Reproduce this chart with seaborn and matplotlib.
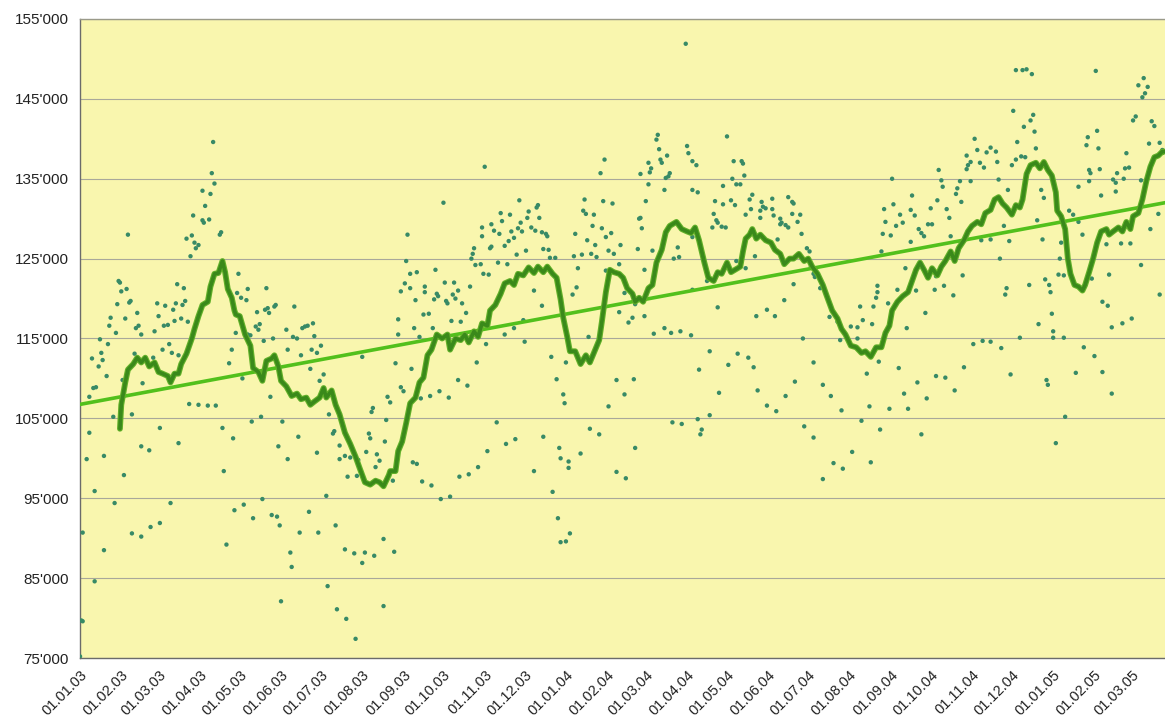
import matplotlib
matplotlib.use("Agg")
import matplotlib.pyplot as plt
import seaborn as sns
import pandas as pd
import numpy as np

# ---------------- data ----------------
start_date = "2003-01-01"
end_date = "2005-03-26"

# daily observations: day offset from start_date, value
scatter_days = [
    0, 1, 2, 100, 99, 101, 98, 92, 94, 92,
    93, 97, 85, 80, 84, 86, 89, 87, 83, 106,
    105, 36, 29, 30, 35, 31, 38, 37, 28, 73,
    78, 58, 64, 72, 79, 77, 70, 59, 43, 23,
    34, 42, 44, 46, 22, 27, 56, 63, 66, 71,
    76, 81, 88, 15, 21, 67, 62, 69, 74, 41,
    55, 16, 17, 9, 14, 20, 32, 47, 10, 12,
    7, 39, 25, 82, 89, 96, 102, 107, 7, 60,
    74, 5, 46, 52, 18, 33, 11, 26, 68, 108,
    116, 2, 39, 46, 53, 60, 110, 18, 11, 112,
    119, 118, 121, 126, 125, 140, 133, 139, 142, 141,
    146, 147, 161, 132, 135, 134, 117, 126, 128, 138,
    145, 155, 160, 163, 167, 169, 171, 175, 176, 181,
    156, 166, 174, 178, 173, 114, 122, 183, 180, 143,
    212, 220, 219, 187, 136, 129, 152, 115, 164, 191,
    190, 217, 218, 195, 149, 178, 195, 156, 199, 203,
    209, 215, 223, 225, 222, 201, 208, 185, 137, 123,
    130, 144, 148, 150, 172, 165, 179, 192, 158, 159,
    199, 206, 214, 212, 221, 151, 186, 193, 200, 207,
    304, 273, 330, 316, 323, 337, 336, 309, 302, 311,
    317, 331, 329, 324, 332, 339, 315, 302, 326, 322,
    319, 309, 308, 296, 295, 335, 328, 294, 245, 246,
    314, 321, 297, 301, 303, 307, 248, 253, 267, 244,
    241, 248, 274, 281, 293, 259, 259, 268, 269, 266,
    252, 275, 276, 280, 284, 282, 287, 258, 262, 290,
    239, 279, 286, 251, 265, 333, 326, 239, 255, 319,
    334, 305, 237, 298, 249, 241, 243, 231, 233, 256,
    263, 270, 277, 284, 291, 230, 313, 320, 327, 229,
    306, 250, 253, 299, 235, 257, 264, 285, 292, 271,
    278, 228, 236, 228,
    455, 434, 433, 435, 456, 457, 460, 441, 436, 437,
    427, 429, 394, 391, 421, 428, 443, 442, 440, 439,
    427, 460, 344, 343, 379, 393, 400, 425, 378, 380,
    386, 345, 420, 421, 342, 347, 350, 351, 385, 392,
    399, 372, 395, 381, 387, 406, 422, 348, 352, 371,
    377, 384, 388, 397, 401, 430, 419, 353, 357, 446,
    450, 449, 374, 405, 395, 424, 341, 373, 370, 347,
    409, 405, 412, 415, 417, 424, 460, 382, 431, 439,
    444, 451, 459, 354, 365, 358, 403, 416, 363, 364,
    409, 397, 445, 452, 348, 383, 390, 360, 361, 367,
    367, 376, 417, 341, 403, 410, 355, 359, 361, 365,
    368,
    486, 463, 491, 497, 498, 499, 490, 493, 496, 483,
    464, 505, 477, 483, 489, 492, 503, 512, 520, 532,
    535, 536, 513, 515, 520, 504, 511, 500, 476, 521,
    526, 535, 541, 511, 478, 479, 475, 482, 485, 526,
    527, 530, 539, 532, 460, 542, 524, 546, 548, 507,
    493, 500, 549, 551, 471, 552, 556, 536, 529, 479,
    516, 508, 522, 563, 569, 543, 473, 494, 502, 465,
    487, 506, 551, 480, 509, 537, 558, 564, 530, 516,
    523, 464, 473, 467, 466, 544, 551, 566, 558,
    672, 674, 681, 666, 669, 667, 676, 679, 645, 666,
    610, 647, 661, 669, 648, 659, 625, 658, 611, 644,
    662, 624, 604, 639, 616, 627, 651, 605, 613, 618,
    653, 637, 640, 630, 632, 634, 654, 603, 609, 624,
    602, 677, 620, 643, 663, 599, 614, 628, 642, 599,
    649, 656, 598, 607, 586, 596, 635, 588, 595, 579,
    584, 584, 571, 621, 671, 678, 600, 591, 615, 643,
    650, 664, 629, 657, 619, 636, 572, 593, 608, 622,
    587, 601, 632, 580, 594, 573,
    703, 708, 711, 715, 763, 799, 795, 802, 798, 800,
    701, 716, 793, 791, 709, 714, 717, 805, 807, 764,
    757, 704, 756, 765, 718, 684, 688, 786, 707, 710,
    703, 700, 689, 811, 813, 803, 758, 759, 766, 779,
    785, 788, 784, 776, 778, 690, 758, 797, 750, 778,
    697, 722, 724, 767, 810, 719, 743, 746, 694, 750,
    804, 684, 698, 723, 753, 737, 772, 771, 782, 789,
    691, 736, 797, 735, 739, 773, 713, 725, 728, 729,
    696, 695, 760, 811, 768, 772, 730, 720, 731, 731,
    739, 706, 775, 783, 790, 684, 692, 754, 762, 748,
    768, 699, 726, 727, 775, 740, 733,
]
scatter_values = [
    75200, 79700, 79600, 139600, 135700, 134400, 133100, 133500, 131600, 129800,
    129500, 129900, 130400, 127500, 127900, 127000, 126700, 126300, 125300, 128300,
    128000, 128000, 122200, 122000, 121200, 120900, 119700, 119500, 119300, 121800,
    121300, 119400, 119100, 119400, 119700, 119200, 118600, 117800, 118200, 117600,
    117500, 116300, 116600, 115500, 116600, 115700, 115900, 116600, 116700, 117200,
    117500, 117100, 117500, 114900, 114300, 114300, 113600, 113200, 112900, 113100,
    112600, 113200, 112300, 112500, 111500, 110300, 109800, 109400, 108800, 108900,
    107700, 105500, 105200, 106800, 106700, 106600, 106600, 103800, 103200, 103800,
    101900, 99900, 101500, 101000, 100300, 97900, 95900, 94400, 94400, 98400,
    93500, 90700, 90600, 90200, 91400, 91900, 89200, 88500, 84600, 111900,
    123100, 120700, 120100, 121200, 119800, 121300, 118300, 118600, 118200, 118800,
    119000, 119200, 119000, 116500, 116800, 116100, 115700, 115500, 115400, 114700,
    115000, 116100, 115200, 115000, 116300, 116500, 116600, 116900, 115300, 114100,
    113600, 112900, 113600, 113200, 111200, 113600, 110000, 110500, 109700, 107700,
    112700, 106300, 105800, 105500, 105200, 104600, 104600, 102500, 102700, 103400,
    103100, 103100, 102500, 101600, 101500, 100700, 99900, 99900, 100300, 100100,
    99800, 100800, 100500, 99700, 98900, 97700, 97800, 95300, 94900, 94200,
    92500, 92900, 92700, 91600, 93300, 90700, 90700, 91600, 88200, 86400,
    88600, 88100, 88200, 86900, 87800, 82100, 84000, 81100, 79900, 77400,
    136500, 132000, 132300, 130700, 130500, 130900, 130100, 129300, 128900, 128500,
    129700, 129500, 128800, 128400, 128400, 128900, 128100, 127800, 127600, 127200,
    126600, 126500, 126300, 126300, 125600, 126000, 125500, 125000, 124700, 128000,
    124500, 124300, 124200, 124300, 123100, 123000, 123100, 123300, 123600, 121900,
    120900, 121300, 122000, 122000, 121500, 121500, 120800, 120600, 120300, 119900,
    119800, 119700, 119400, 120500, 121000, 120000, 119400, 118000, 118100, 118200,
    117400, 117200, 117100, 116300, 116300, 117300, 116300, 115500, 115200, 115500,
    114600, 114300, 111900, 112000, 111200, 108900, 108400, 107700, 107000, 107500,
    107800, 108400, 107600, 109800, 109100, 104800, 104500, 101800, 102400, 102100,
    100900, 99500, 99300, 98900, 97200, 97100, 96600, 97700, 98000, 94900,
    95200, 89900, 88300, 81500,
    151900, 140500, 139900, 138700, 139100, 138200, 137200, 137900, 137400, 137000,
    137000, 136300, 137400, 135700, 135600, 135800, 135700, 135300, 135100, 133600,
    134300, 133600, 131700, 131400, 132400, 132200, 131900, 132200, 131000, 130600,
    130500, 130100, 130000, 130100, 128500, 128300, 128100, 127800, 129100, 128800,
    128200, 128100, 127700, 127300, 126700, 126700, 128800, 126200, 126100, 125300,
    125500, 125600, 125200, 126000, 125600, 126000, 126200, 125100, 125100, 125000,
    125200, 126400, 123800, 124300, 123500, 123600, 121000, 121400, 120500, 119100,
    120700, 118300, 117000, 117600, 119300, 117800, 121100, 115200, 115600, 116300,
    115700, 115900, 115400, 112700, 112000, 109900, 109800, 109900, 108000, 106900,
    108000, 106500, 104500, 104300, 102700, 103700, 103000, 101300, 100000, 99600,
    98800, 100600, 101300, 98400, 98300, 97500, 95800, 92500, 89500, 89600,
    90600,
    140300, 136700, 137200, 137200, 136900, 135400, 135000, 134300, 134300, 134100,
    133300, 133000, 132200, 131800, 132300, 131700, 132400, 132100, 132500, 132700,
    132100, 131900, 131500, 131300, 131200, 131200, 131000, 130500, 130600, 130400,
    130000, 130600, 130500, 130100, 129800, 129500, 128900, 129000, 128900, 129300,
    129500, 129200, 129600, 128900, 127700, 128100, 127400, 126300, 125900, 125300,
    124700, 123800, 124000, 123100, 122200, 122700, 121300, 121800, 119800, 118900,
    118600, 117800, 117800, 117700, 117100, 115000, 113400, 113100, 112600, 111100,
    111700, 111400, 112000, 108200, 108500, 109600, 109200, 107800, 107800, 106600,
    105900, 104900, 105400, 103600, 103000, 104000, 102600, 99400, 97400,
    140000, 138600, 138300, 137900, 137100, 136700, 137000, 136400, 136100, 136200,
    135000, 134800, 134700, 134700, 134000, 133800, 132900, 133100, 131800, 132300,
    132100, 131100, 131200, 131300, 130500, 130400, 131200, 129600, 129100, 129500,
    130100, 129300, 129300, 128700, 128200, 127800, 127800, 128100, 127900, 127100,
    125900, 127300, 123800, 122800, 122900, 121600, 121100, 121000, 121100, 120800,
    121600, 120400, 120100, 119400, 119000, 119000, 118200, 117300, 116800, 116500,
    116400, 115000, 114800, 116300, 114300, 114700, 112100, 110600, 111300, 110300,
    110100, 111400, 109500, 108500, 108100, 107500, 106000, 106500, 106200, 106200,
    104700, 103600, 103000, 100800, 99500, 98700,
    148600, 148600, 148700, 148100, 148500, 147600, 146700, 146500, 145200, 145700,
    143500, 143000, 142800, 142300, 141500, 142300, 140900, 142200, 141600, 141000,
    140200, 139600, 139200, 138800, 138800, 138900, 138400, 138200, 137800, 137700,
    137400, 136700, 137100, 139500, 138600, 139400, 136100, 135700, 136200, 135700,
    136300, 136400, 135000, 134900, 134500, 134900, 134700, 134800, 134000, 133400,
    133600, 133600, 132600, 132900, 130600, 129800, 131000, 130500, 129100, 129600,
    128700, 127400, 127200, 127400, 128000, 127000, 128300, 126800, 126900, 126900,
    125000, 125000, 124200, 123000, 122900, 123000, 121700, 122400, 121700, 120800,
    121300, 120500, 122500, 120500, 119600, 119100, 118100, 116800, 115900, 115100,
    115100, 115100, 116400, 116900, 117500, 114600, 113800, 113900, 112800, 110700,
    110800, 110500, 109800, 109200, 108100, 105200, 101900,
]

# moving average line (day offset, value)
ma_days = [
    30, 31, 34, 36, 40, 43, 46, 49, 52, 56, 59, 62, 66, 68, 71, 74, 76, 80, 84, 86,
    89, 92, 96, 98, 101, 104, 107, 109, 111, 114, 116, 117, 120, 124, 128, 130, 134, 137, 140, 144,
    146, 149, 151, 155, 159, 163, 166, 170, 173, 176, 180, 183, 185, 189, 192, 195, 199, 203, 207, 210,
    214, 218, 222, 225, 228, 232, 233, 237, 239, 242, 245, 248, 252, 255, 258, 261, 264, 268, 272, 276,
    278, 282, 286, 289, 292, 296, 299, 302, 306, 308, 312, 316, 319, 323, 326, 329, 333, 337, 341, 344,
    348, 351, 355, 358, 361, 363, 366, 368, 372, 376, 380, 383, 386, 390, 392, 395, 398, 401, 405, 408,
    411, 415, 417, 420, 423, 427, 430, 433, 437, 440, 443, 448, 452, 456, 459, 462, 465, 469, 472, 476,
    479, 482, 486, 489, 492, 496, 498, 500, 503, 505, 508, 511, 515, 519, 522, 526, 529, 533, 536, 540,
    544, 547, 550, 554, 558, 561, 565, 569, 572, 575, 579, 583, 587, 590, 594, 598, 602, 605, 608, 610,
    614, 618, 622, 625, 628, 631, 634, 637, 640, 644, 647, 650, 654, 657, 660, 664, 667, 670, 674, 677,
    680, 684, 687, 690, 693, 696, 700, 703, 706, 708, 711, 714, 718, 721, 724, 727, 730, 733, 734, 737,
    740, 742, 744, 747, 750, 753, 755, 758, 761, 764, 767, 771, 773, 776, 780, 783, 786, 789, 791, 795,
    798, 801, 804, 807, 810, 813, 815,
]
ma_values = [
    103700, 106700, 109500, 111100, 111800, 112600, 112000, 112600, 111500, 112000,
    110800, 110600, 110300, 109500, 110600, 110600, 111800, 113100, 115000, 116200,
    117800, 119200, 119600, 121500, 123100, 123200, 124700, 123300, 121200, 120100,
    118500, 118000, 117800, 115500, 114100, 111300, 110800, 109700, 112200, 112500,
    112900, 111500, 109700, 109000, 107800, 108100, 107400, 107600, 106700, 107100,
    107600, 108800, 107600, 108500, 106700, 105500, 103200, 101800, 100200, 98800,
    97000, 96700, 97200, 97000, 96500, 97900, 98400, 98400, 100900, 102100,
    104400, 106900, 107600, 109500, 110100, 112900, 113600, 115500, 115000, 115500,
    113600, 115000, 114800, 115500, 114500, 115900, 115200, 116900, 116600, 118500,
    119200, 120600, 121900, 122200, 121700, 123100, 122900, 123900, 123200, 124000,
    123300, 124000, 123100, 122600, 119900, 117600, 115200, 113400, 113400, 111800,
    112900, 112000, 113200, 114800, 117100, 120800, 123600, 123300, 123100, 122600,
    121300, 120600, 119600, 120100, 119600, 121300, 121700, 124500, 126100, 128300,
    129100, 129600, 128700, 128400, 128200, 128900, 127300, 124500, 122600, 122200,
    123300, 123100, 124500, 123300, 123600, 124000, 125900, 127500, 128000, 128700,
    127500, 128000, 127300, 127000, 126100, 125600, 124300, 125000, 125000, 125600,
    124700, 125000, 124000, 123100, 121700, 120300, 118500, 117500, 116200, 115500,
    114100, 113900, 113200, 113400, 112700, 113900, 113900, 115700, 116600, 118500,
    119600, 120300, 120800, 122200, 123600, 124500, 123600, 122600, 123800, 122900,
    124000, 124700, 125900, 124700, 126300, 127300, 128400, 129100, 129600, 129300,
    130700, 131100, 132400, 132700, 131900, 131400, 130500, 131700, 131400, 132400,
    135600, 136700, 137000, 136300, 137100, 136100, 135400, 133300, 131000, 130300,
    128700, 125000, 123100, 121700, 121500, 121000, 121700, 123300, 125000, 127000,
    128400, 128700, 128000, 128400, 128900, 128400, 129600, 128700, 130300, 130700,
    132400, 134700, 136500, 137700, 137900, 138400, 138400,
]

# linear trend line end points
trend_days = [0, 815]
trend_values = [106750, 132000]

x_tick_labels = [
    "01.01.03", "01.02.03", "01.03.03", "01.04.03", "01.05.03", "01.06.03",
    "01.07.03", "01.08.03", "01.09.03", "01.10.03", "01.11.03", "01.12.03",
    "01.01.04", "01.02.04", "01.03.04", "01.04.04", "01.05.04", "01.06.04",
    "01.07.04", "01.08.04", "01.09.04", "01.10.04", "01.11.04", "01.12.04",
    "01.01.05", "01.02.05", "01.03.05",
]
y_ticks = [75000, 85000, 95000, 105000, 115000, 125000, 135000, 145000, 155000]
y_tick_labels = ["75'000", "85'000", "95'000", "105'000", "115'000",
                 "125'000", "135'000", "145'000", "155'000"]

# ---------------- build frames ----------------
t0 = pd.Timestamp(start_date)
scatter_df = pd.DataFrame({
    "date": t0 + pd.to_timedelta(scatter_days, unit="D"),
    "value": scatter_values,
})
ma_df = pd.DataFrame({
    "date": t0 + pd.to_timedelta(ma_days, unit="D"),
    "value": ma_values,
})
trend_df = pd.DataFrame({
    "date": t0 + pd.to_timedelta(trend_days, unit="D"),
    "value": trend_values,
})
tick_dates = pd.to_datetime(x_tick_labels, format="%d.%m.%y")

# ---------------- style ----------------
sns.set_style("white")
plt.rcParams["font.family"] = ["Liberation Sans", "DejaVu Sans"]

W, H = 1165, 716
fig = plt.figure(figsize=(W / 100, H / 100), dpi=100)
fig.patch.set_facecolor("white")
ax = fig.add_axes([80 / W, 1 - 658 / H, 1085 / W, 639 / H])
ax.set_facecolor("#f9f6ae")

# scatter
sns.scatterplot(data=scatter_df, x="date", y="value", ax=ax, s=10,
                color="#388a66", edgecolor="none", linewidth=0, zorder=3)
# trend
sns.lineplot(data=trend_df, x="date", y="value", ax=ax, color="#52c01c",
             linewidth=2.6, zorder=4, estimator=None, sort=False)
# moving average (lighter halo + darker core)
sns.lineplot(data=ma_df, x="date", y="value", ax=ax, color="#62b02a",
             linewidth=4.2, zorder=5, estimator=None, sort=False)
sns.lineplot(data=ma_df, x="date", y="value", ax=ax, color="#3a891a",
             linewidth=2.6, zorder=6, estimator=None, sort=False)

ax.set_xlim(t0, pd.Timestamp(end_date))
ax.set_ylim(75000, 155000)

ax.set_yticks(y_ticks)
ax.set_yticklabels(y_tick_labels, fontsize=11, color="#222222")
ax.set_xticks(tick_dates)
ax.set_xticklabels(x_tick_labels, rotation=45, ha="right",
                   rotation_mode="anchor", fontsize=10.5, color="#222222")

ax.tick_params(axis="y", length=0, pad=8)
ax.tick_params(axis="x", length=3, width=0.8, color="#777777", pad=4,
               direction="out")

ax.grid(axis="y", color="#a9a89a", linewidth=0.8)
ax.grid(axis="x", visible=False)
ax.set_axisbelow(True)

for side in ["left", "bottom", "top"]:
    ax.spines[side].set_visible(True)
    ax.spines[side].set_color("#6b6b6b")
    ax.spines[side].set_linewidth(1.0)
ax.spines["top"].set_color("#9a9a8a")
ax.spines["right"].set_visible(False)

ax.set_xlabel("")
ax.set_ylabel("")
if ax.get_legend() is not None:
    ax.get_legend().remove()

fig.savefig("out.png", dpi=100, facecolor="white")
